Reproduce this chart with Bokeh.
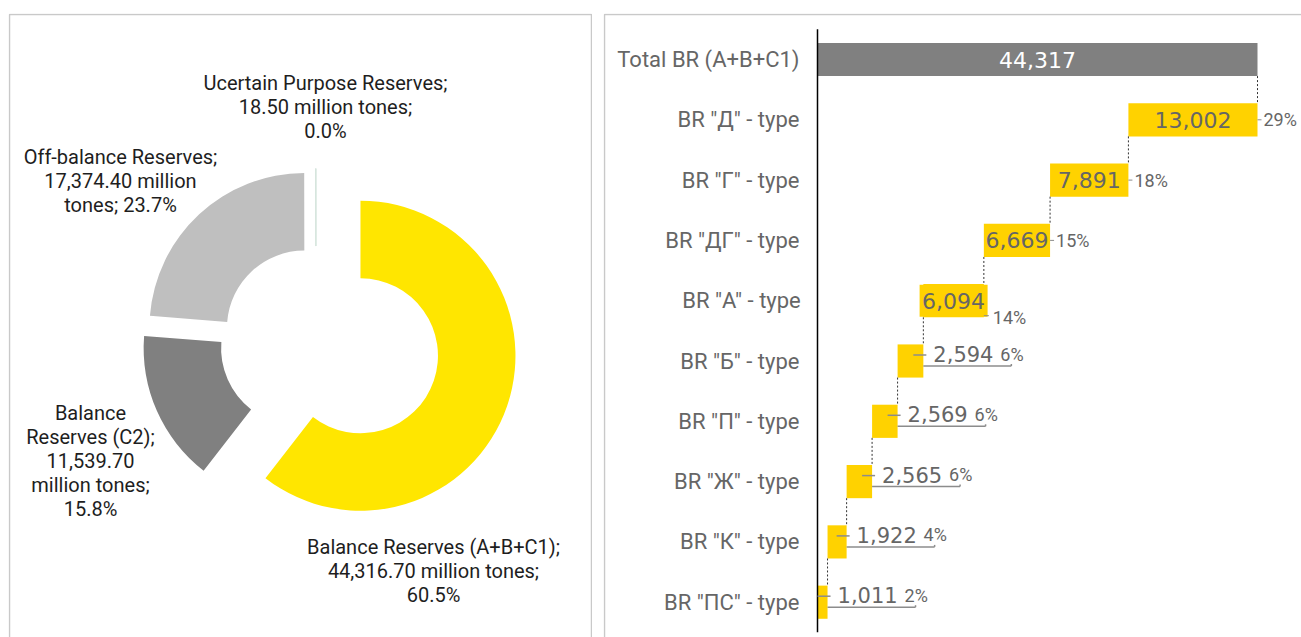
import math
from bokeh.plotting import figure
from bokeh.layouts import row
from bokeh.models import Range1d, LinearAxis, FixedTicker
from bokeh.core.properties import value
from bokeh.embed import file_html
from bokeh.resources import INLINE

# ---------------- data ----------------
pie_names = ["Balance Reserves (A+B+C1)", "Balance Reserves (C2)",
             "Off-balance Reserves", "Ucertain Purpose Reserves"]
pie_values = [44316.70, 11539.70, 17374.40, 18.50]
pie_unit = "million tones"

wf_categories = ["Total BR (A+B+C1)", 'BR "Д" - type', 'BR "Г" - type', 'BR "ДГ" - type',
                 'BR "А" - type', 'BR "Б" - type', 'BR "П" - type', 'BR "Ж" - type',
                 'BR "К" - type', 'BR "ПС" - type']
wf_values = [44317, 13002, 7891, 6669, 6094, 2594, 2569, 2565, 1922, 1011]

# ---------------- styles ----------------
FONT = "Roboto"
NUMFONT = "DejaVu Sans"
BORDER = "#C9C9C9"
pie_colors = ["#FFE600", "#808080", "#BFBFBF", "#D2E3DA"]
explode_px = [47, 19, 17, 17]
BAR_GRAY = "#808080"
BAR_YELLOW = "#FFD200"
TXT_GRAY = "#666666"
TXT_DARK = "#1E1E1E"

H = 637
TOP = 13
# ================= left: donut =================
LW = 592
fw1, fh1 = LW - 8, H - TOP
p1 = figure(width=LW, height=H, x_range=Range1d(0, fw1), y_range=Range1d(0, fh1),
            output_backend="svg", toolbar_location=None,
            x_axis_location=None, y_axis_location=None,
            min_border_left=8, min_border_right=0, min_border_top=TOP, min_border_bottom=0)
p1.grid.visible = False
p1.outline_line_color = None
p1.background_fill_color = "white"
p1.border_fill_color = "white"
# panel border (left, top, right)
p1.line(x=[1, 1, fw1 - 1, fw1 - 1], y=[-5, fh1 - 1, fh1 - 1, -5], line_color=BORDER, line_width=1.5)

cx0, cy0, R, r = 307.5, 297.0, 155.0, 77.5
tot = sum(pie_values)
cum = 0.0
xs, ys, st, en = [], [], [], []
for v, e in zip(pie_values, explode_px):
    a0 = cum / tot
    cum += v
    a1 = cum / tot
    s = math.pi / 2 - 2 * math.pi * a0
    t = math.pi / 2 - 2 * math.pi * a1
    m = (s + t) / 2
    xs.append(cx0 + e * math.cos(m))
    ys.append(cy0 + e * math.sin(m))
    st.append(s)
    en.append(t)

p1.annular_wedge(x=xs, y=ys, inner_radius=r, outer_radius=R, start_angle=st, end_angle=en,
                 direction="clock", fill_color=pie_colors, line_color=pie_colors,
                 line_alpha=[0, 0, 0, 1], line_width=1)

pcts = [f"{v / tot * 100:.1f}%" for v in pie_values]
vals = [f"{v:,.2f}" for v in pie_values]
pie_labels = [
    f"{pie_names[0]};\n{vals[0]} {pie_unit};\n{pcts[0]}",
    f"{pie_names[1].replace(' ', chr(10), 1)};\n{vals[1]}\n{pie_unit};\n{pcts[1]}",
    f"{pie_names[2]};\n{vals[2]} {pie_unit.replace(' ', chr(10))}; {pcts[2]}",
    f"{pie_names[3]};\n{vals[3]} {pie_unit};\n{pcts[3]}",
]
lab_x = [425, 82, 112, 317]
lab_y = [67, 177, 457, 531]
p1.text(x=lab_x, y=lab_y, text=pie_labels, text_align="center", text_baseline="middle",
        text_font=value(FONT), text_font_size="20px", text_color=TXT_DARK,
        text_line_height=1.0)

# ================= right: waterfall =================
RW = 709
ML = 11
n = len(wf_categories)
frame_w = RW - ML
ax_px = 214            # axis position from frame left
end_px = 440           # length of the total bar
upx = wf_values[0] / end_px
x_start = -ax_px * upx
x_end = (frame_w - ax_px) * upx
row_px = 60.3
top_row_px = 46        # first row centre below frame top
ypx = 1 / row_px
y_top = -top_row_px * ypx
y_bot = y_top + (H - TOP) * ypx

p2 = figure(width=RW, height=H, x_range=Range1d(x_start, x_end),
            y_range=Range1d(y_bot, y_top),
            output_backend="svg", toolbar_location=None,
            x_axis_location=None, y_axis_location=None,
            min_border_left=ML, min_border_right=0, min_border_top=TOP, min_border_bottom=0)
p2.grid.visible = False
p2.outline_line_color = None
p2.border_fill_color = "white"
# panel border (left, top)
bx = x_start + 1 * upx
by = y_top + 1 * ypx
p2.line(x=[bx, bx, x_end + 10 * upx], y=[y_bot + 1, by, by], line_color=BORDER, line_width=1.5)

idx = list(range(n))
lefts, rights = [0], [wf_values[0]]
running = wf_values[0]
for v in wf_values[1:]:
    lefts.append(running - v)
    rights.append(running)
    running -= v
colors = [BAR_GRAY] + [BAR_YELLOW] * (n - 1)
BH = 0.55

centers = [(a + b) / 2 for a, b in zip(lefts, rights)]
inside = [i for i in range(1, n) if wf_values[i] / upx >= 55]
outside = [i for i in range(1, n) if wf_values[i] / upx < 55]
over = [i for i in inside if wf_values[i] / upx < 64]
if over:
    p2.quad(left=[centers[i] - 34 * upx for i in over], right=[centers[i] + 34 * upx for i in over],
            top=[i - 16 * ypx for i in over], bottom=[i + 16 * ypx for i in over],
            fill_color=BAR_YELLOW, line_color=None)

p2.hbar(y=idx, left=lefts, right=rights, height=BH, fill_color=colors, line_color=None)

# axis line
p2.segment(x0=[0], y0=[-0.5], x1=[0], y1=[n - 0.5], line_color="black", line_width=1.5)

# connectors
p2.segment(x0=[rights[i] for i in range(1, n)], x1=[rights[i] for i in range(1, n)],
           y0=[i - 1 + BH / 2 for i in range(1, n)], y1=[i - BH / 2 for i in range(1, n)],
           line_color="#333333", line_width=1, line_dash="2 2")

yaxis = LinearAxis(fixed_location=0, ticker=FixedTicker(ticks=idx),
                   major_label_overrides={i: c for i, c in enumerate(wf_categories)})
yaxis.axis_line_color = None
yaxis.major_tick_line_color = None
yaxis.minor_tick_line_color = None
yaxis.major_label_standoff = 12
yaxis.major_label_text_font = FONT
yaxis.major_label_text_font_size = "22px"
yaxis.major_label_text_color = TXT_GRAY
p2.add_layout(yaxis, "left")

# total label
p2.text(x=[centers[0]], y=[0], text=[f"{wf_values[0]:,}"], text_align="center",
        text_baseline="middle", text_font=value(NUMFONT), text_font_size="22px", text_color="white")
# inside labels
p2.text(x=[centers[i] for i in inside], y=inside, text=[f"{wf_values[i]:,}" for i in inside],
        text_align="center", text_baseline="middle", text_font=value(NUMFONT),
        text_font_size="22px", text_color=TXT_GRAY)
# outside labels
p2.text(x=[rights[i] + 10 * upx for i in outside], y=[i - 7 * ypx for i in outside],
        text=[f"{wf_values[i]:,}" for i in outside], text_align="left", text_baseline="middle",
        text_font=value(NUMFONT), text_font_size="21px", text_color=TXT_GRAY)

pct = [f"{round(v / wf_values[0] * 100)}%" for v in wf_values]
LEAD = "#8C8C8C"
pin_x, pin_y, lx0, lx1, ly = [], [], [], [], []
for i in inside:
    if i in over:
        pin_x.append(rights[i] + 9 * upx); pin_y.append(i + 17 * ypx)
        lx0.append(rights[i]); lx1.append(rights[i] + 5 * upx); ly.append(i + 15 * ypx)
    else:
        pin_x.append(rights[i] + 6 * upx); pin_y.append(i)
        lx0.append(rights[i]); lx1.append(rights[i] + 4 * upx); ly.append(i)
p2.segment(x0=lx0, x1=lx1, y0=ly, y1=ly, line_color=LEAD, line_width=1)
p2.text(x=pin_x, y=pin_y, text=[pct[i] for i in inside], text_align="left",
        text_baseline="middle", text_font=value(FONT), text_font_size="18px", text_color=TXT_GRAY)

p2.text(x=[rights[i] + 77 * upx for i in outside], y=[i - 7 * ypx for i in outside],
        text=[pct[i] for i in outside], text_align="left", text_baseline="middle",
        text_font=value(FONT), text_font_size="18px", text_color=TXT_GRAY)
p2.segment(x0=[rights[i] - 10 * upx for i in outside], x1=[rights[i] + 3 * upx for i in outside],
           y0=[i - 6 * ypx for i in outside], y1=[i - 6 * ypx for i in outside],
           line_color=LEAD, line_width=1.5)
p2.segment(x0=[rights[i] for i in outside], x1=[rights[i] + 88 * upx for i in outside],
           y0=[i + 5 * ypx for i in outside], y1=[i + 5 * ypx for i in outside],
           line_color=LEAD, line_width=1.5)
p2.segment(x0=[rights[i] + 88 * upx for i in outside], x1=[rights[i] + 88 * upx for i in outside],
           y0=[i + 5 * ypx for i in outside], y1=[i + 3 * ypx for i in outside],
           line_color=LEAD, line_width=1.5)

layout = row(p1, p2, spacing=0)
open("out.html", "w").write(file_html(layout, INLINE))
